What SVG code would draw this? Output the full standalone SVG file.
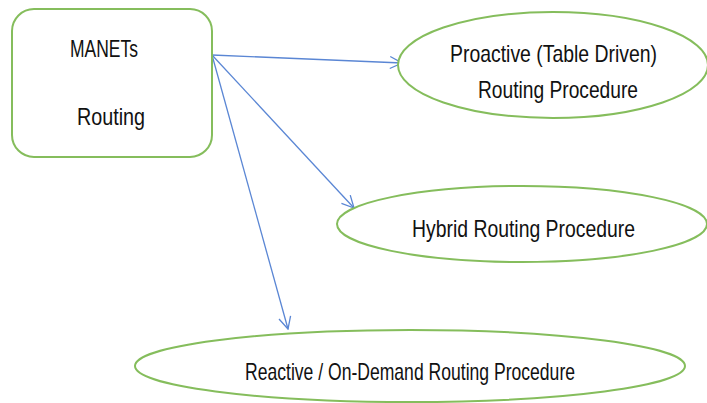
<svg xmlns="http://www.w3.org/2000/svg" width="707" height="403" viewBox="0 0 707 403">
<defs>
<style>
.node{fill:#ffffff;stroke:#85bd5c;stroke-width:2}
.lbl{font-family:"Liberation Sans",Arial,sans-serif;font-size:24px;fill:#111111}
.conn{stroke:#5a86d4;stroke-width:1.3;fill:none}
</style>
<marker id="arr" viewBox="0 0 14 14" refX="13" refY="7" markerWidth="14" markerHeight="14" markerUnits="userSpaceOnUse" orient="auto">
<path d="M1,1 L13,7 L1,13" fill="none" stroke="#5a86d4" stroke-width="1.3"/>
</marker>
</defs>
<rect width="707" height="403" fill="#ffffff"/>
<g id="connectors">
<line class="conn" x1="212" y1="55" x2="402" y2="63" marker-end="url(#arr)"/>
<line class="conn" x1="212" y1="55" x2="354" y2="208" marker-end="url(#arr)"/>
<line class="conn" x1="212" y1="55" x2="288" y2="329" marker-end="url(#arr)"/>
</g>
<g id="manets">
<rect class="node" x="12" y="9" width="200" height="148" rx="22" ry="22"/>
<text class="lbl" x="70" y="57" textLength="68" lengthAdjust="spacingAndGlyphs">MANETs</text>
<text class="lbl" x="77" y="125" textLength="68" lengthAdjust="spacingAndGlyphs">Routing</text>
</g>
<g id="proactive">
<ellipse class="node" cx="553" cy="65" rx="155" ry="53"/>
<text class="lbl" x="450" y="62" textLength="207" lengthAdjust="spacingAndGlyphs">Proactive (Table Driven)</text>
<text class="lbl" x="478" y="98" textLength="160" lengthAdjust="spacingAndGlyphs">Routing Procedure</text>
</g>
<g id="hybrid">
<ellipse class="node" cx="522" cy="224" rx="185" ry="38"/>
<text class="lbl" x="412" y="237" textLength="223" lengthAdjust="spacingAndGlyphs">Hybrid Routing Procedure</text>
</g>
<g id="reactive">
<ellipse class="node" cx="410" cy="366" rx="275" ry="36"/>
<text class="lbl" x="245" y="380" textLength="330" lengthAdjust="spacingAndGlyphs">Reactive / On-Demand Routing Procedure</text>
</g>
</svg>
